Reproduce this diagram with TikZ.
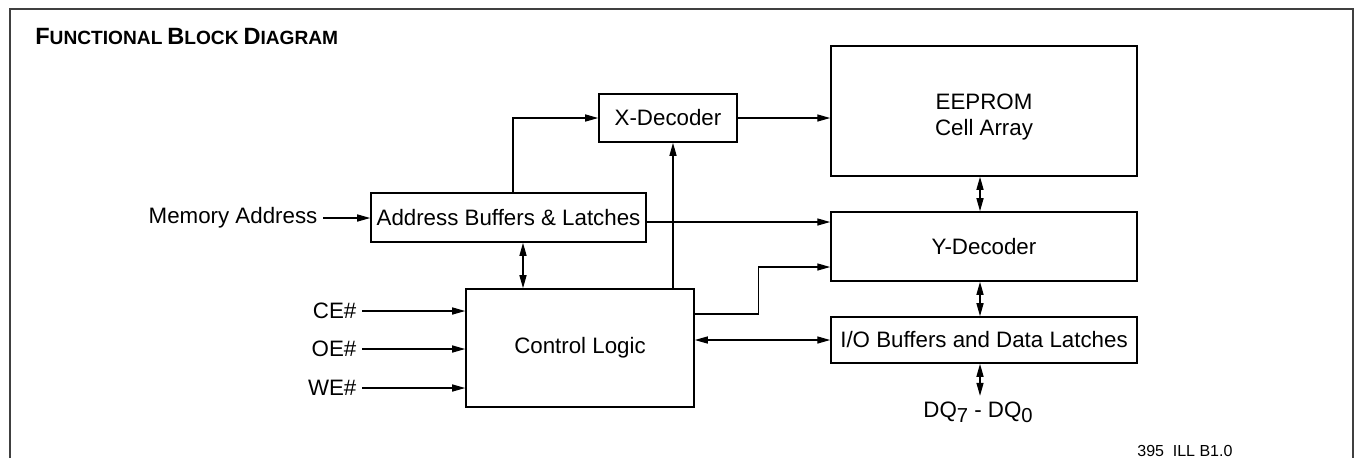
\documentclass[tikz,border=0pt]{standalone}
\usepackage{fontspec}
\setmainfont{Liberation Sans}
\usetikzlibrary{arrows.meta,positioning}
\newcommand{\capsc}[2]{{\fontsize{13.4}{15}\selectfont #1}{\fontsize{10.9}{13}\selectfont #2}}

\begin{document}
\begin{tikzpicture}[x=0.02cm,y=-0.02cm,
    block/.style={rectangle,draw,line width=0.9pt,inner sep=0pt,text centered,font=\fontsize{12.7}{15}\selectfont},
    sig/.style={inner sep=3pt,font=\fontsize{12.7}{15}\selectfont},
    arrow/.style={-{Triangle[length=2.6mm,width=1.4mm]},line width=0.8pt},
    dblarrow/.style={{Triangle[length=2.6mm,width=1.4mm]}-{Triangle[length=2.6mm,width=1.4mm]},line width=0.8pt}]
    \useasboundingbox (0,0) rectangle (1354,458);
    % frame and title
    \draw[line width=0.9pt,black!75] (10,458) -- (10,9) -- (1353,9) -- (1353,458);
    \node[anchor=base west,inner sep=0pt,font=\bfseries] (title) at (35,44) {\capsc{F}{UNCTIONAL} \capsc{B}{LOCK} \capsc{D}{IAGRAM}};
    % blocks
    \node[block,minimum width=2.76cm,minimum height=0.96cm] (xdec) at (668,118) {X-Decoder};
    \node[block,minimum width=6.12cm,minimum height=2.6cm] (eeprom) at (984,111)
        {\raisebox{-0.12cm}[\height][\depth]{\begin{tabular}{@{}c@{}}EEPROM\\Cell Array\end{tabular}}\hspace{0.24cm}};
    \node[block,minimum width=6.12cm,minimum height=1.38cm] (ydec) at (984,246.5) {Y-Decoder\hspace{0.2cm}};
    \node[block,minimum width=6.12cm,minimum height=0.92cm] (io) at (984,340) {I/O Buffers and Data Latches};
    \node[block,minimum width=5.5cm,minimum height=0.98cm] (addr) at (508.5,217.5) {Address Buffers \& Latches};
    \node[block,minimum width=4.56cm,minimum height=2.36cm] (ctrl) at (580,348) {Control Logic\hspace{0.2cm}};
    % signals
    \node[sig,anchor=east] (mem) at (323,218) {Memory Address};
    \node[sig,anchor=east] (ce) at (362,311) {CE\#};
    \node[sig,anchor=east] (oe) at (362,349) {OE\#};
    \node[sig,anchor=east] (we) at (362,388) {WE\#};
    \node[sig] (dq) at (978,412) {DQ\raisebox{-0.45ex}{\fontsize{11.5}{13}\selectfont 7} - DQ\raisebox{-0.45ex}{\fontsize{11.5}{13}\selectfont 0}};
    \node[anchor=base west,inner sep=0pt,font=\fontsize{9.1}{11}\selectfont] (ill) at (1137,456) {395\ \ ILL B1.0};
    % columns and rows for the connectors
    \coordinate (acol) at (513,0);
    \coordinate (bcol) at (523,0);
    \coordinate (xcol) at (673,0);
    \coordinate (dcol) at (980,0);
    \coordinate (yrow) at (0,222);
    % connectors
    \draw[arrow] (mem.east) -- (addr.west |- mem.east);
    \draw[arrow] (addr.north -| acol) |- (xdec.west);
    \draw[arrow] (xdec.east) -- (xdec.east -| eeprom.west);
    \draw[arrow] (addr.east |- yrow) -- (ydec.west |- yrow);
    \draw[dblarrow] (addr.south -| bcol) -- (ctrl.north -| bcol);
    \draw[arrow] (ctrl.north -| xcol) -- (xdec.south -| xcol);
    \draw[arrow] ([yshift=0.68cm]ctrl.east) -- ++(64,0) |- ([yshift=-0.41cm]ydec.west);
    \draw[dblarrow] (ctrl.east |- io.west) -- (io.west);
    \draw[dblarrow] (eeprom.south -| dcol) -- (ydec.north -| dcol);
    \draw[dblarrow] (ydec.south -| dcol) -- (io.north -| dcol);
    \draw[dblarrow] (io.south -| dcol) -- (dq.north -| dcol);
    \draw[arrow] (ce.east) -- (ctrl.west |- ce.east);
    \draw[arrow] (oe.east) -- (ctrl.west |- oe.east);
    \draw[arrow] (we.east) -- (ctrl.west |- we.east);
\end{tikzpicture}
\end{document}
